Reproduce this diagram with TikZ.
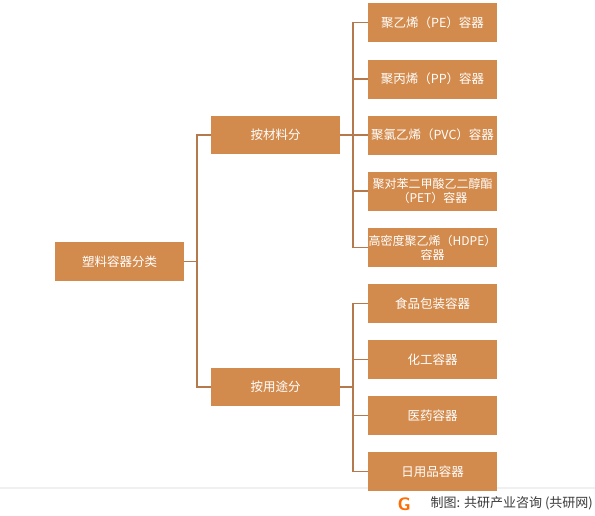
\documentclass[tikz,border=0pt]{standalone}
\usepackage{fontspec}
\newfontfamily\cjk{Noto Sans CJK SC}
\definecolor{boxfill}{HTML}{D38B4D}
\definecolor{linec}{HTML}{B47A4E}
\definecolor{foot}{HTML}{3A3A3A}
\begin{document}
\begin{tikzpicture}[x=1pt,y=-1pt,
  box/.style={draw=none,fill=boxfill,text=white,minimum width=129pt,minimum height=39pt,inner sep=0pt,align=center,font=\cjk\fontsize{12.5}{14.5}\selectfont},
  smallbox/.style={box,font=\cjk\fontsize{12}{14}\selectfont},
  conn/.style={draw=linec,line width=1.4pt}]
\useasboundingbox (0,0) rectangle (595,515);
\fill[white] (0,0) rectangle (595,515);
% footer rule (behind boxes)
\draw[black!6,line width=1.5pt] (0,488) -- (595,488);
% nodes
\node[box] (root) at (119.5,261.5) {塑料容器分类};
\node[box,minimum height=38pt] (m1) at (275.5,135) {按材料分};
\node[box,minimum height=38pt] (m2) at (275.5,387) {按用途分};
\node[box] (a1) at (432.5,22.5) {聚乙烯（PE）容器};
\node[box] (a2) at (432.5,79) {聚丙烯（PP）容器};
\node[box] (a3) at (432.5,135) {聚氯乙烯（PVC）容器};
\node[smallbox] (a4) at (432.5,191) {聚对苯二甲酸乙二醇酯\\（PET）容器};
\node[smallbox] (a5) at (432.5,247.5) {高密度聚乙烯（HDPE）\\容器};
\node[box] (b1) at (432.5,303.5) {食品包装容器};
\node[box] (b2) at (432.5,359.5) {化工容器};
\node[box] (b3) at (432.5,415.5) {医药容器};
\node[box] (b4) at (432.5,471.5) {日用品容器};
% connectors
\coordinate (rj) at (197,261.5);
\coordinate (j1) at (353,135);
\coordinate (j2) at (353,387);
\draw[conn] (root.east) -- (rj);
\draw[conn] (rj) |- (m1.west);
\draw[conn] (rj) |- (m2.west);
\draw[conn] (m1.east) -- (j1);
\foreach \n in {a1,a2,a3,a4,a5} \draw[conn] (j1) |- (\n.west);
\draw[conn] (m2.east) -- (j2);
\foreach \n in {b1,b2,b3,b4} \draw[conn] (j2) |- (\n.west);
% footer
\node[anchor=east,inner sep=0pt,text=foot,font=\cjk\fontsize{13}{15}\selectfont] (src) at (593,503) {制图: 共研产业咨询 (共研网)};
\node[anchor=east,inner sep=0pt,text=orange!85!red,font=\sffamily\bfseries\fontsize{18}{18}\selectfont] (logo) at (411,504) {G};
\end{tikzpicture}
\end{document}
